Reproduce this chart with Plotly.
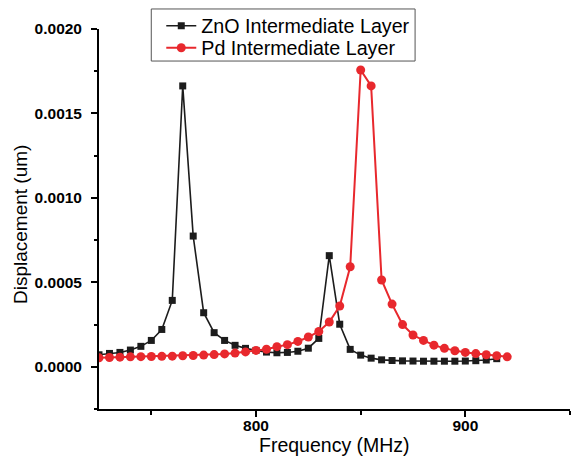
import plotly.graph_objects as go

# ---- data ----
freq_zno = [725, 730, 735, 740, 745, 750, 755, 760, 765, 770, 775, 780, 785, 790, 795,
            800, 805, 810, 815, 820, 825, 830, 835, 840, 845, 850, 855, 860, 865, 870,
            875, 880, 885, 890, 895, 900, 905, 910, 915]
disp_zno = [0.000071, 0.000079, 0.000085, 0.000099, 0.000121, 0.000156, 0.000221, 0.000393,
            0.001663, 0.000774, 0.000320, 0.000202, 0.000156, 0.000127, 0.000109, 0.000097,
            0.000087, 0.000083, 0.000085, 0.000092, 0.000110, 0.000168, 0.000658, 0.000252,
            0.000103, 0.000069, 0.000051, 0.000041, 0.000037, 0.000035, 0.000034, 0.000033,
            0.000033, 0.000033, 0.000033, 0.000034, 0.000036, 0.000040, 0.000048]

freq_pd = [725, 730, 735, 740, 745, 750, 755, 760, 765, 770, 775, 780, 785, 790, 795,
           800, 805, 810, 815, 820, 825, 830, 835, 840, 845, 850, 855, 860, 865, 870,
           875, 880, 885, 890, 895, 900, 905, 910, 915, 920]
disp_pd = [0.000053, 0.000055, 0.000057, 0.000059, 0.000060, 0.000061, 0.000062, 0.000063,
           0.000065, 0.000067, 0.000069, 0.000072, 0.000076, 0.000081, 0.000088, 0.000097,
           0.000104, 0.000119, 0.000131, 0.000150, 0.000176, 0.000209, 0.000265, 0.000360,
           0.000592, 0.001757, 0.001663, 0.000514, 0.000371, 0.000250, 0.000188, 0.000156,
           0.000128, 0.000109, 0.000095, 0.000085, 0.000078, 0.000071, 0.000065, 0.000059]

name_zno = "ZnO Intermediate Layer"
name_pd = "Pd Intermediate Layer"
x_title = "Frequency (MHz)"
y_title = "Displacement (um)"

FONT = "Liberation Sans, Arial, sans-serif"
LEG_FONT = dict(family=FONT, size=19.7, color="black")

fig = go.Figure()
fig.add_trace(go.Scatter(
    x=freq_zno, y=disp_zno, name=name_zno, mode="lines+markers",
    line=dict(color="#1c1c1c", width=1.6),
    marker=dict(symbol="square", size=7, color="#1c1c1c"),
    legend="legend",
))
fig.add_trace(go.Scatter(
    x=freq_pd, y=disp_pd, name=name_pd, mode="lines+markers",
    line=dict(color="#e8282d", width=2),
    marker=dict(symbol="circle", size=9, color="#e8282d"),
    legend="legend2",
))

fig.update_layout(
    width=574, height=458,
    margin=dict(l=99, r=4, t=29, b=49),
    paper_bgcolor="white", plot_bgcolor="white",
    font=dict(family=FONT, color="black"),
    showlegend=True,
    legend=dict(
        x=0.1322, y=1.0079, xanchor="left", yanchor="middle",
        bgcolor="rgba(0,0,0,0)", borderwidth=0,
        font=LEG_FONT, itemwidth=30,
    ),
    legend2=dict(
        x=0.1322, y=0.950, xanchor="left", yanchor="middle",
        bgcolor="rgba(0,0,0,0)", borderwidth=0,
        font=LEG_FONT, itemwidth=30,
    ),
    shapes=[
        dict(type="rect", xref="paper", yref="paper",
             x0=0.111, x1=0.6711, y0=0.9157, y1=1.0527,
             line=dict(color="#555555", width=1), fillcolor="white", layer="above"),
    ],
    xaxis=dict(
        range=[725, 950], showgrid=False, zeroline=False,
        showline=True, linecolor="black", linewidth=1.8,
        ticks="outside", ticklen=6, tickwidth=1.5, tickcolor="black",
        tick0=800, dtick=100,
        minor=dict(ticks="outside", ticklen=4, tickwidth=1.5, tickcolor="black", dtick=50, tick0=750, showgrid=False),
        tickfont=dict(family=FONT, size=15.5, weight="bold", color="black"),
        ticklabelstandoff=-5,
    ),
    yaxis=dict(
        range=[-0.00025, 0.002], showgrid=False, zeroline=False,
        showline=True, linecolor="black", linewidth=1.8,
        ticks="outside", ticklen=6, tickwidth=1.5, tickcolor="black",
        tick0=0, dtick=0.0005, tickformat=".4f",
        minor=dict(ticks="outside", ticklen=3, tickwidth=1.5, tickcolor="black", dtick=0.00025, showgrid=False),
        tickfont=dict(family=FONT, size=15.5, weight="bold", color="black"),
        ticklabelstandoff=6,
    ),
    annotations=[
        dict(text=x_title, xref="paper", yref="paper", x=0.5, y=-0.096,
             xanchor="center", yanchor="middle", showarrow=False,
             font=dict(family=FONT, size=19.5, color="black")),
        dict(text=y_title, xref="paper", yref="paper", x=-0.167, y=0.485,
             xanchor="center", yanchor="middle", textangle=-90, showarrow=False,
             font=dict(family=FONT, size=19, color="black")),
    ],
)

fig.write_html("out.html")
